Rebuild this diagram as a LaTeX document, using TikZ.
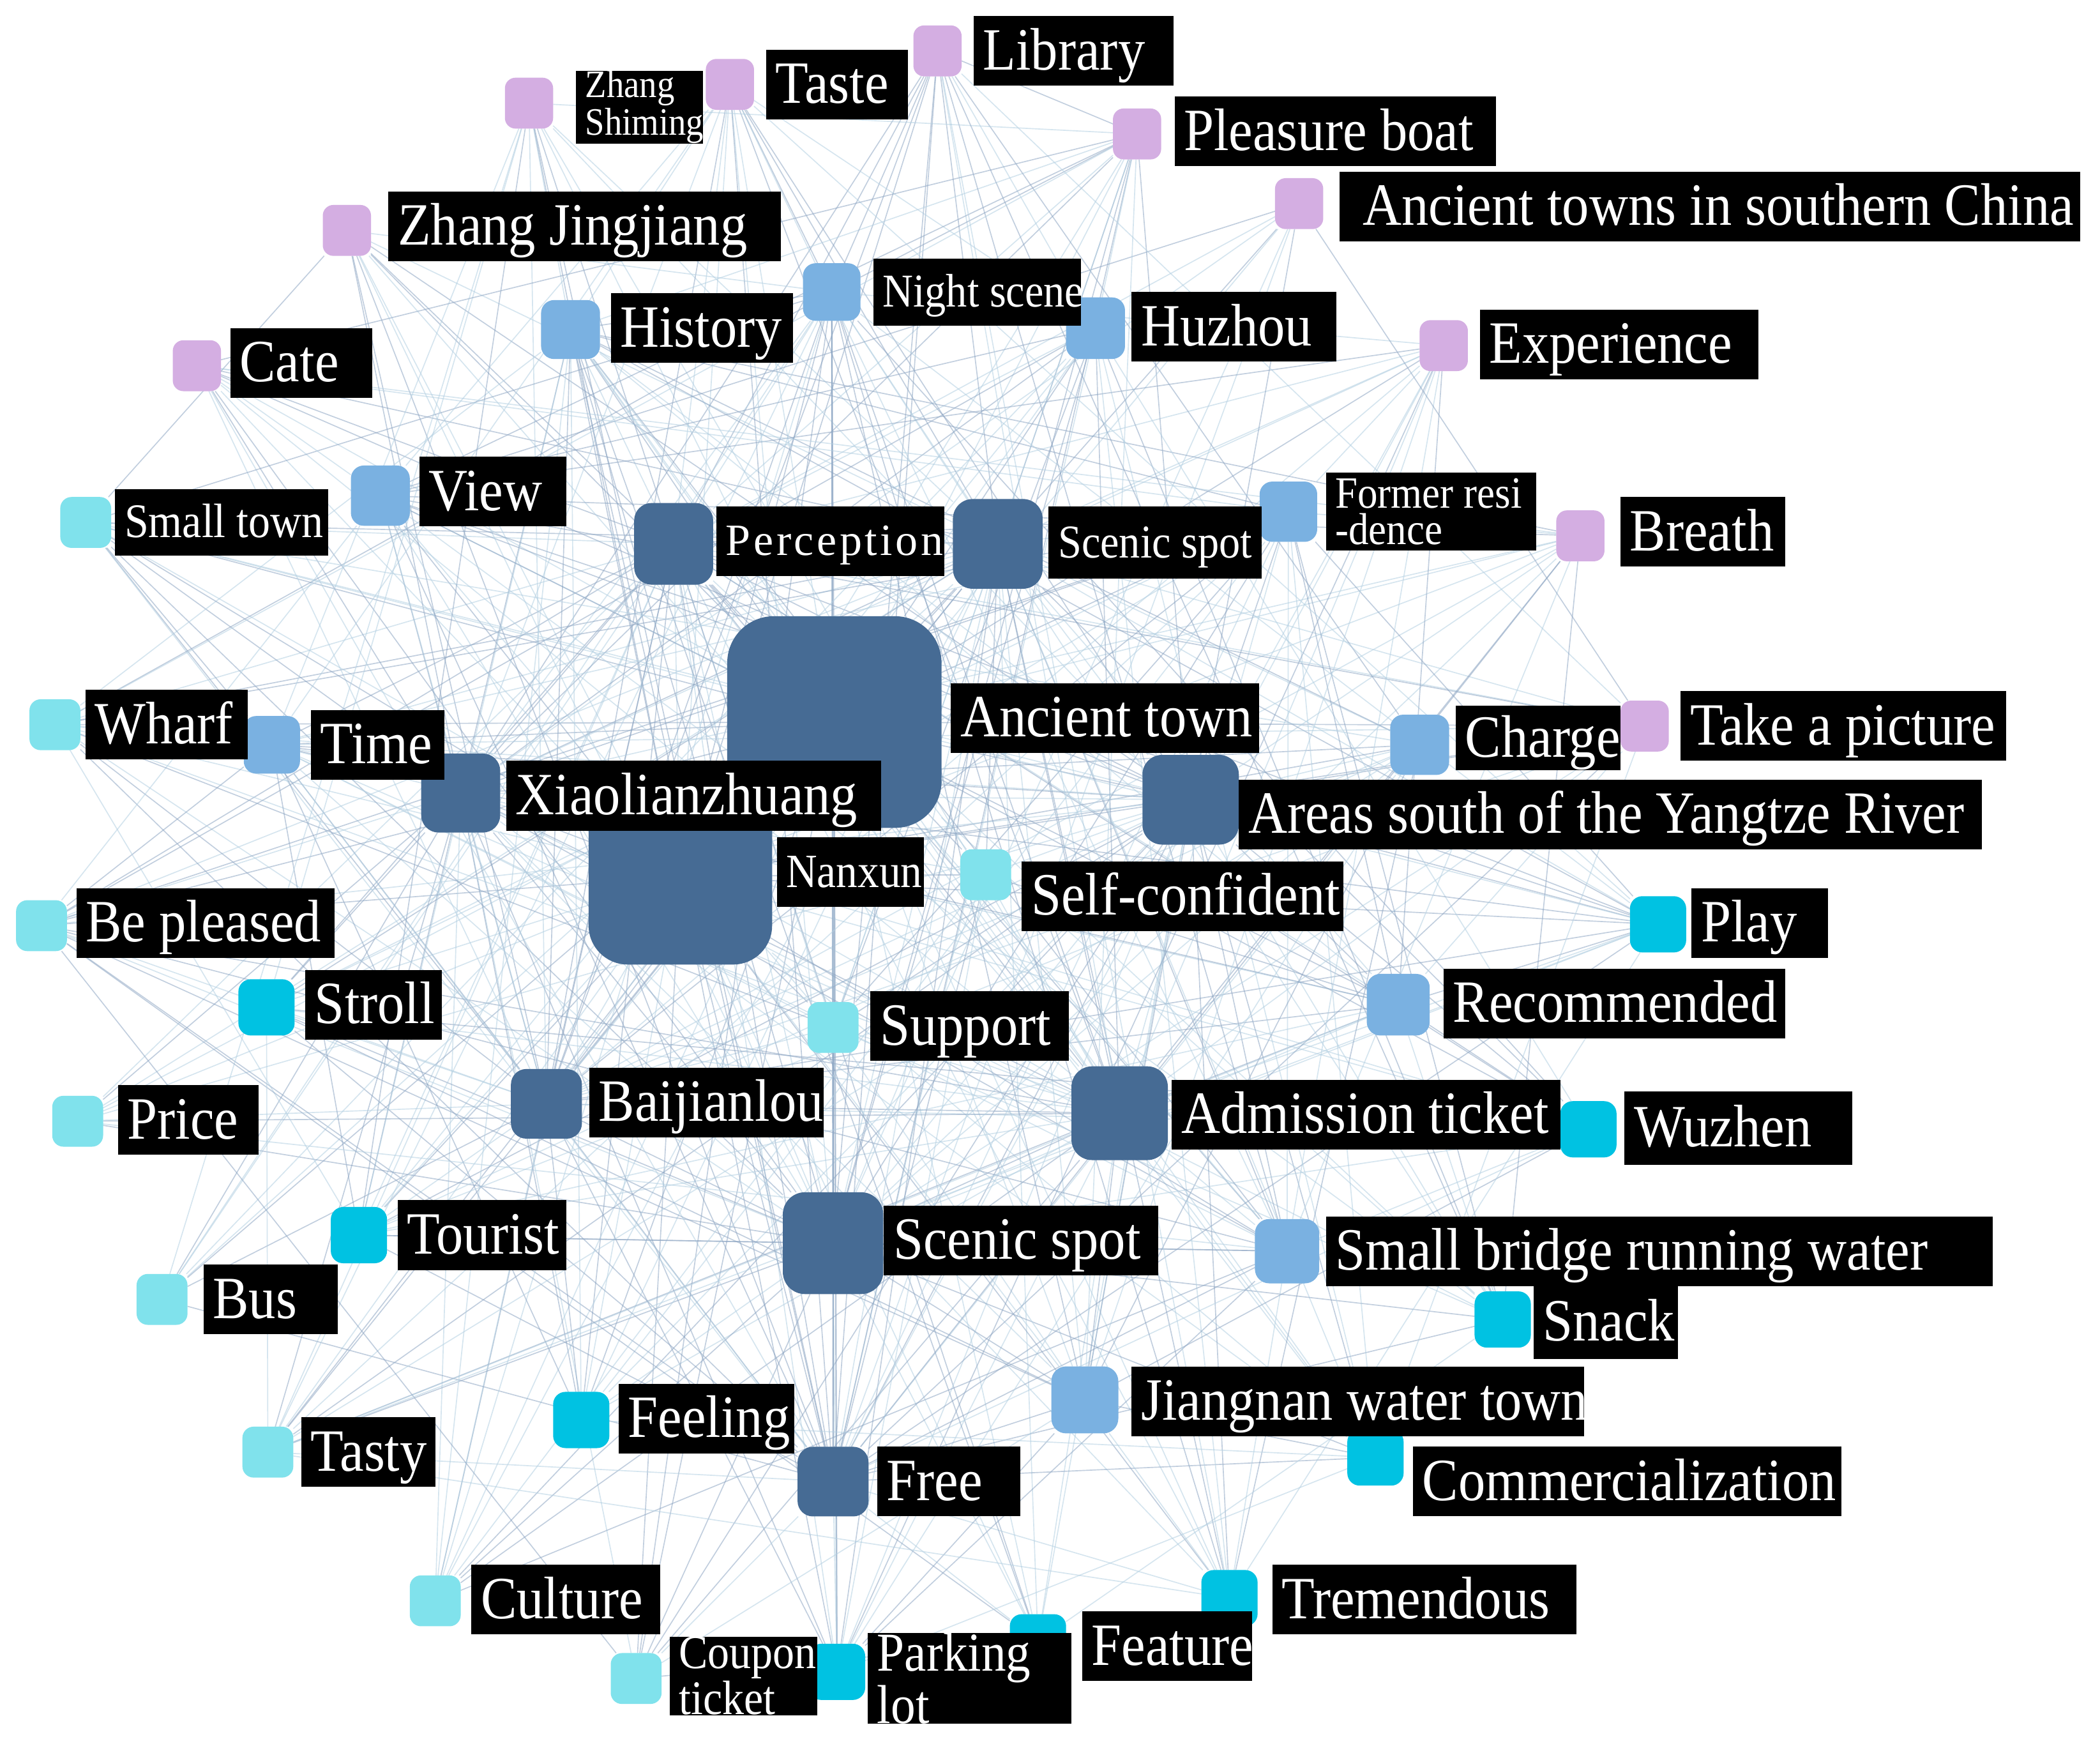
\documentclass[tikz,border=0pt]{standalone}
\usepackage{fontspec}
\setmainfont{Liberation Serif}[FakeStretch=0.9]
\newfontfamily\percfont{Liberation Serif}[LetterSpace=6.5]
\definecolor{cdark}{HTML}{466B94}
\definecolor{cmed}{HTML}{7AB1E1}
\definecolor{clcy}{HTML}{80E2EC}
\definecolor{ccy}{HTML}{00C2E2}
\definecolor{cpur}{HTML}{D4AEE2}
\definecolor{cedgeA}{HTML}{8FA7C4}
\definecolor{cedgeB}{HTML}{B4D0E2}
\pgfdeclarelayer{edges}
\pgfsetlayers{edges,main}
\newcommand\fsz[2]{\fontsize{#1}{#2}\selectfont}
\newcommand\sqn[6]{\pgfmathsetmacro\sqw{#4*0.02}\pgfmathsetmacro\sqh{#5*0.02}\pgfmathsetmacro\sqr{min(#4,#5)*0.02*0.22}\node[sq,fill=#6,minimum width=\sqw cm,minimum height=\sqh cm,rounded corners=\sqr cm] (#1) at (#2,#3) {};}
\newcommand\lbl[6][]{\pgfmathsetmacro\lbw{(#4-#3)*0.02}\node[lab,#1] (#2) at (#3,#5) {\makebox[\lbw cm][l]{\hspace*{4pt}#6}};}
\newcommand\lblb[7][]{\pgfmathsetmacro\lbw{(#4-#3)*0.02}\node[lab,labtwo,#1] (#2) at (#3,#5) {\parbox{\lbw cm}{\mbox{\hspace*{4pt}#6}\\\mbox{\hspace*{4pt}#7}}};}
\begin{document}
\begin{tikzpicture}[x=0.02cm,y=-0.02cm,
  sq/.style={draw=none,inner sep=0pt,outer sep=0pt},
  lab/.style={fill=black,text=white,inner xsep=0pt,inner ysep=0pt,outer sep=0pt,anchor=west,minimum height=1.04cm,text height=20pt,text depth=4pt,font=\fsz{25.5}{28}},
  small/.style={text height=16pt,text depth=3.2pt},
  labtwo/.style={text height={},text depth={}},
  edge/.style={line width=0.45pt,opacity=0.55}]
\useasboundingbox (0,0) rectangle (1568,1298);
% ---------- squares ----------
% purple
\sqn{zs}{395}{77}{36}{38}{cpur}
\sqn{taste}{545}{63}{36}{38}{cpur}
\sqn{library}{700}{38}{36}{38}{cpur}
\sqn{pboat}{849}{100}{36}{38}{cpur}
\sqn{atsc}{970}{152}{36}{38}{cpur}
\sqn{zj}{259}{172}{36}{38}{cpur}
\sqn{cate}{147}{273}{36}{38}{cpur}
\sqn{exper}{1078}{258}{36}{38}{cpur}
\sqn{breath}{1180}{400}{36}{38}{cpur}
\sqn{takepic}{1228}{542}{36}{38}{cpur}
% medium blue
\sqn{history}{426}{246}{44}{44}{cmed}
\sqn{night}{621}{218}{43}{43}{cmed}
\sqn{huzhou}{818}{245}{44}{46}{cmed}
\sqn{view}{284}{370}{44}{45}{cmed}
\sqn{former}{962}{382}{43}{45}{cmed}
\sqn{time}{203}{556}{42}{43}{cmed}
\sqn{charge}{1060}{556}{44}{45}{cmed}
\sqn{recom}{1044}{750}{47}{46}{cmed}
\sqn{sbridge}{961}{934}{48}{48}{cmed}
\sqn{jiangnan}{810}{1045}{50}{50}{cmed}
% dark
\sqn{perc}{503}{406}{59}{61}{cdark}
\sqn{stop}{745}{406}{67}{67}{cdark}
\sqn{nanxun}{508}{654}{137}{132}{cdark}
\sqn{atown}{623}{539}{160}{158}{cdark}
\sqn{xiao}{344}{592}{59}{59}{cdark}
\sqn{areas}{889}{597}{72}{67}{cdark}
\sqn{baij}{408}{824}{53}{52}{cdark}
\sqn{admis}{836}{831}{72}{70}{cdark}
\sqn{sbot}{622}{928}{75}{76}{cdark}
\sqn{free}{622}{1106}{53}{52}{cdark}
% light cyan
\sqn{stown}{64}{390}{38}{38}{clcy}
\sqn{wharf}{41}{541}{38}{38}{clcy}
\sqn{bepl}{31}{691}{38}{38}{clcy}
\sqn{price}{58}{837}{38}{38}{clcy}
\sqn{bus}{121}{970}{38}{38}{clcy}
\sqn{tasty}{200}{1084}{38}{38}{clcy}
\sqn{culture}{325}{1195}{38}{38}{clcy}
\sqn{coupon}{475}{1253}{38}{38}{clcy}
\sqn{selfc}{736}{653}{38}{38}{clcy}
\sqn{support}{622}{767}{38}{38}{clcy}
% cyan
\sqn{stroll}{199}{752}{42}{42}{ccy}
\sqn{tourist}{268}{922}{42}{42}{ccy}
\sqn{feeling}{434}{1060}{42}{42}{ccy}
\sqn{parking}{625}{1248}{42}{42}{ccy}
\sqn{feature}{775}{1225}{42}{40}{ccy}
\sqn{tremen}{918}{1193}{42}{42}{ccy}
\sqn{commer}{1027}{1088}{42}{42}{ccy}
\sqn{snack}{1122}{985}{42}{42}{ccy}
\sqn{wuzhen}{1186}{843}{42}{42}{ccy}
\sqn{play}{1238}{690}{42}{42}{ccy}
% ---------- labels ----------
\lblb[minimum height=1.0cm,font=\fsz{16.5}{12.8}]{lzs}{430}{525}{80}{Zhang}{Shiming}
\lbl{ltaste}{572}{678}{63}{Taste}
\lbl{llibrary}{727}{876}{38}{Library}
\lbl{lpboat}{877}{1117}{98}{Pleasure boat}
\lbl{latsc}{1000}{1553}{154}{\hspace*{6pt}Ancient towns in southern China}
\lbl{lzj}{290}{583}{169}{Zhang Jingjiang}
\lbl{lcate}{172}{278}{271}{Cate}
\lbl{lexper}{1105}{1313}{257}{Experience}
\lbl{lbreath}{1210}{1333}{397}{Breath}
\lbl{ltakepic}{1255}{1498}{542}{Take a picture}
\lbl{lhistory}{456}{592}{245}{History}
\lbl[small,minimum height=1.0cm,font=\fsz{20}{24}]{lnight}{652}{807}{218}{Night scene}
\lbl{lhuzhou}{845}{998}{244}{Huzhou}
\lbl{lview}{313}{423}{367}{View}
\lblb[minimum height=1.16cm,font=\fsz{19}{15.5}]{lformer}{990}{1147}{382}{Former resi}{-dence}
\lbl{ltime}{232}{332}{556}{Time}
\lbl[minimum height=0.96cm]{lcharge}{1087}{1210}{551}{Charge}
\lbl{lrecom}{1078}{1333}{749}{Recommended}
\lbl{lsbridge}{990}{1488}{934}{Small bridge running water}
\lbl{ljiangnan}{845}{1183}{1046}{Jiangnan water town}
\lbl[text height=15pt,text depth=3pt,font=\percfont\fsz{19}{22}]{lperc}{535}{705}{404}{Perception}
\lbl[small,minimum height=1.08cm,font=\fsz{20}{24}]{lstop}{783}{942}{405}{Scenic spot}
\lbl{latown}{710}{940}{536}{Ancient town}
\lbl[small,font=\fsz{20.3}{24}]{lnanxun}{580}{690}{651}{Nanxun}
\lbl{lxiao}{378}{658}{594}{Xiaolianzhuang}
\lbl{lareas}{925}{1480}{608}{Areas south of the Yangtze River}
\lbl{lbaij}{440}{615}{823}{Baijianlou}
\lbl{ladmis}{875}{1165}{832}{Admission ticket}
\lbl{lsbot}{660}{865}{926}{Scenic spot}
\lbl{lfree}{655}{762}{1106}{Free}
\lbl[small,minimum height=1.0cm,font=\fsz{20.5}{24}]{lstown}{86}{245}{390}{Small town}
\lbl{lwharf}{64}{185}{541}{Wharf}
\lbl{lbepl}{57}{250}{689}{Be pleased}
\lbl{lprice}{88}{193}{836}{Price}
\lbl{lbus}{152}{252}{970}{Bus}
\lbl{ltasty}{225}{325}{1084}{Tasty}
\lbl{lculture}{352}{493}{1194}{Culture}
\lblb[minimum height=1.06cm,font=\fsz{20.5}{13.5}]{lcoupon}{500}{610}{1251}{Coupon}{ticket}
\lbl{lselfc}{763}{1003}{669}{Self-confident}
\lbl{lsupport}{650}{798}{766}{Support}
\lbl{lstroll}{228}{330}{750}{Stroll}
\lbl{ltourist}{297}{423}{922}{Tourist}
\lbl{lfeeling}{462}{593}{1059}{Feeling}
\lblb[minimum height=1.34cm,font=\fsz{23.3}{17}]{lparking}{648}{800}{1253}{Parking}{lot}
\lbl{lfeature}{808}{935}{1229}{Feature}
\lbl{ltremen}{950}{1177}{1194}{Tremendous}
\lbl{lcommer}{1055}{1375}{1106}{Commercialization}
\lbl[minimum height=1.1cm]{lsnack}{1145}{1253}{987}{Snack}
\lbl[minimum height=1.1cm]{lwuzhen}{1213}{1383}{842}{Wuzhen}
\lbl{lplay}{1263}{1365}{689}{Play}
% ---------- edges ----------
\def\nodelist{perc/1,stop/1,atown/1,nanxun/1,xiao/1,areas/1,baij/1,admis/1,sbot/1,free/1,history/2,night/2,huzhou/2,view/2,former/2,time/2,charge/2,recom/2,sbridge/2,jiangnan/2,zs/3,taste/3,library/3,pboat/3,atsc/3,zj/3,cate/3,exper/3,breath/3,takepic/3,stown/3,wharf/3,bepl/3,price/3,bus/3,tasty/3,culture/3,coupon/3,selfc/3,support/3,stroll/3,tourist/3,feeling/3,parking/3,feature/3,tremen/3,commer/3,snack/3,wuzhen/3,play/3}
\begin{pgfonlayer}{edges}
\fill[white] (0,0) rectangle (1568,1298);
\pgfmathsetseed{4242}
\foreach \a/\ga [count=\i] in \nodelist {
  \foreach \b/\gb [count=\j] in \nodelist {
    \ifnum\j>\i\relax
      \ifnum\ga<\gb \edef\mg{\ga}\else\edef\mg{\gb}\fi
      \ifcase\mg\or\def\pp{0.85}\or\def\pp{0.32}\else\def\pp{0.07}\fi
      \pgfmathsetmacro\rr{rnd}
      \ifdim\rr pt<\pp pt
        \pgfmathsetmacro\rrc{rnd}
        \ifdim\rrc pt<0.5pt
          \draw[edge,draw=cedgeA] (\a) -- (\b);
        \else
          \draw[edge,draw=cedgeB] (\a) -- (\b);
        \fi
      \fi
    \fi
  }
}
\end{pgfonlayer}
\end{tikzpicture}
\end{document}
